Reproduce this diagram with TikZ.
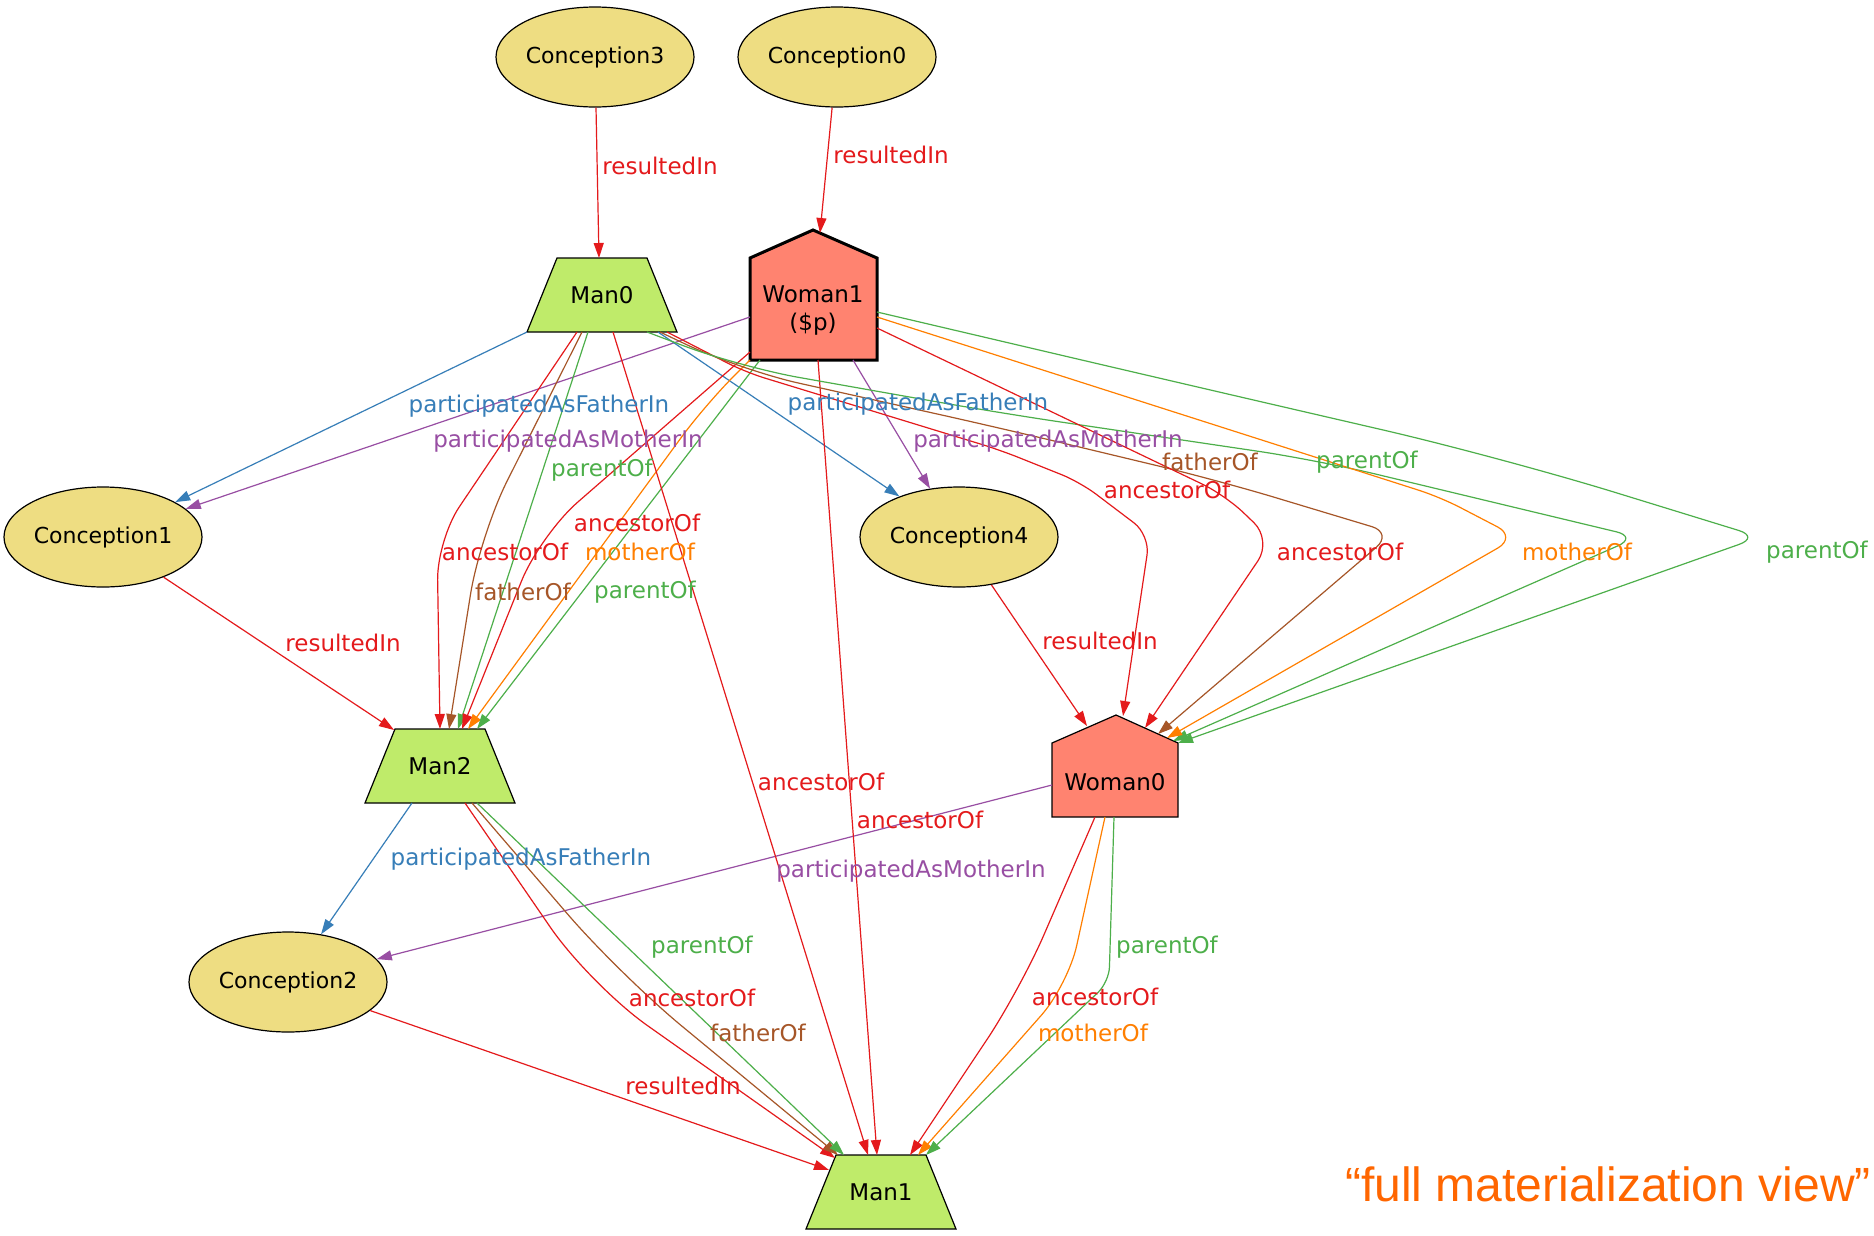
\documentclass[tikz,border=0pt]{standalone}
\usepackage{fontspec}
\setmainfont{DejaVu Sans}
\newfontfamily\titlefont{Liberation Sans}
\usetikzlibrary{arrows.meta,calc,shapes.geometric}
\pgfdeclarelayer{background}
\pgfsetlayers{background,main}

\definecolor{cRed}{HTML}{E41A1C}
\definecolor{cBlue}{HTML}{377EB8}
\definecolor{cGreen}{HTML}{4DAF4A}
\definecolor{cPurple}{HTML}{984EA3}
\definecolor{cOrange}{HTML}{FF7F00}
\definecolor{cBrown}{HTML}{A65628}
\definecolor{conceptFill}{HTML}{EEDD82}
\definecolor{manFill}{HTML}{BFEB6A}
\definecolor{womanFill}{HTML}{FF8370}
\definecolor{titleOrange}{HTML}{FF6600}

\begin{document}
\begin{tikzpicture}[x=1pt, y=-1pt,
  concept/.style={ellipse, draw=black, line width=1.2pt, fill=conceptFill,
    minimum width=198pt, minimum height=100pt, inner sep=0pt,
    font=\fontsize{22}{26}\selectfont},
  man/.style={inner sep=0pt, minimum width=150pt, minimum height=74pt,
    font=\fontsize{23}{27}\selectfont},
  woman/.style={inner sep=0pt, align=center, font=\fontsize{23}{28}\selectfont},
  outline/.style={draw=black, line join=miter, line width=1.2pt},
  edge/.style={line width=1.2pt, -{Triangle[length=15pt,width=10pt]}},
  lbl/.style={inner sep=0pt, font=\fontsize{23}{27}\selectfont}
]
\useasboundingbox (0,0) rectangle (1874,1235);

% ---- nodes ----
\node[concept] (c3) at (595,57) {Conception3};
\node[concept] (c0) at (837,57) {Conception0};
\node[man] (man0) at (602,295) {Man0};
\node[woman] (woman1) at (813,311) {Woman1\\(\$p)};
\node[concept] (c1) at (103,537) {Conception1};
\node[concept] (c4) at (959,537) {Conception4};
\node[man] (man2) at (440,766) {Man2};
\node[woman] (woman0) at (1115,782) {Woman0};
\node[concept] (c2) at (288,982) {Conception2};
\node[man] (man1) at (881,1192) {Man1};

% white sheet, then the trapezium and house outlines behind the labels
\begin{pgfonlayer}{background}
\fill[white] (0,0) rectangle (1874,1235);
\foreach \m in {man0,man2,man1}{
  \draw[outline, fill=manFill]
    ($(\m)+(-75,37)$) -- ($(\m)+(75,37)$) -- ($(\m)+(45,-37)$)
    -- ($(\m)+(-45,-37)$) -- cycle;
}
\draw[outline, fill=womanFill, line width=3pt]
  ($(woman1)+(-63,49)$) -- ($(woman1)+(64,49)$) -- ($(woman1)+(64,-53)$)
  -- ($(woman1)+(0,-81)$) -- ($(woman1)+(-63,-53)$) -- cycle;
\draw[outline, fill=womanFill]
  ($(woman0)+(-63,35)$) -- ($(woman0)+(63,35)$) -- ($(woman0)+(63,-39)$)
  -- ($(woman0)+(1,-67)$) -- ($(woman0)+(-63,-39)$) -- cycle;
\end{pgfonlayer}

% ---- conceptions resulting in persons ----
\draw[edge, cRed] (c3) -- ($(man0)+(-3,-37)$);
\draw[edge, cRed] (c0) -- ($(woman1)+(7,-78)$);
\draw[edge, cRed] (c1) -- ($(man2)+(-46,-36)$);
\draw[edge, cRed] (c4) -- ($(woman0)+(-28,-56)$);
\draw[edge, cRed] (c2) -- ($(man1)+(-52,-22)$);

% ---- participation ----
\draw[edge, cBlue] ($(man0)+(-75,37)$) -- (c1);
\draw[edge, cPurple] ($(woman1)+(-63,6)$) -- (c1);
\draw[edge, cBlue] ($(man0)+(56,37)$) -- (c4);
\draw[edge, cPurple] ($(woman1)+(40,49)$) -- (c4);
\draw[edge, cBlue] ($(man2)+(-28,37)$) -- (c2);
\draw[edge, cPurple] ($(woman0)+(-63,3)$) -- (c2);

% ---- into Man2 ----
\draw[edge, cRed, rounded corners=40pt] ($(man0)+(-25,37)$) -- (437,540) -- ($(man2)+(0,-37)$);
\draw[edge, cBrown, rounded corners=60pt] ($(man0)+(-20,37)$) -- (480,535) -- ($(man2)+(9,-37)$);
\draw[edge, cGreen] ($(man0)+(-14,37)$) -- ($(man2)+(18,-37)$);
\draw[edge, cRed, rounded corners=50pt] ($(woman1)+(-63,41)$) -- (540,535) -- ($(man2)+(22,-37)$);
\draw[edge, cOrange, rounded corners=40pt] ($(woman1)+(-63,49)$) -- (705,405) -- ($(man2)+(28,-37)$);
\draw[edge, cGreen] ($(woman1)+(-53,49)$) -- ($(man2)+(37,-37)$);

% ---- into Man1 ----
\draw[edge, cRed] ($(man0)+(11,37)$) -- ($(man1)+(-13,-37)$);
\draw[edge, cRed] ($(woman1)+(5,49)$) -- ($(man1)+(-4,-37)$);
\draw[edge, cRed, rounded corners=70pt] ($(man2)+(25,37)$) -- (590,985) -- ($(man1)+(-46,-34)$);
\draw[edge, cBrown, rounded corners=80pt] ($(man2)+(32,37)$) -- (620,975) -- ($(man1)+(-43,-37)$);
\draw[edge, cGreen] ($(man2)+(37,37)$) -- ($(man1)+(-37,-37)$);
\draw[edge, cRed, rounded corners=60pt] ($(woman0)+(-20,35)$) -- (1020,990) -- ($(man1)+(29,-37)$);
\draw[edge, cOrange, rounded corners=40pt] ($(woman0)+(-10,35)$) -- (1068,985) -- ($(man1)+(37,-37)$);
\draw[edge, cGreen, rounded corners=15pt] ($(woman0)+(-1,35)$) -- (1109,982) -- ($(man1)+(45,-37)$);

% ---- long routes into Woman0 ----
\draw[edge, cRed, rounded corners=20pt] ($(man0)+(65,37)$) -- (745,372) -- (1000,450) -- (1080,482) -- (1150,535) -- ($(woman0)+(8,-66)$);
\draw[edge, cBrown, rounded corners=60pt] ($(man0)+(58,37)$) -- (740,370) -- (1000,428) -- (1217,480)
  [rounded corners=22pt] -- (1393,533) -- ($(woman0)+(43,-48)$);
\draw[edge, cGreen, rounded corners=60pt] ($(man0)+(45,37)$) -- (740,367) -- (1000,413) -- (1317,460)
  [rounded corners=22pt] -- (1638,537) -- ($(woman0)+(58,-41)$);
\draw[edge, cRed, rounded corners=25pt] ($(woman1)+(64,17)$) -- (1225,495) -- (1272,540) -- ($(woman0)+(30,-54)$);
\draw[edge, cOrange, rounded corners=22pt] ($(woman1)+(64,6)$) -- (1440,497) -- (1517,537) -- ($(woman0)+(52,-44)$);
\draw[edge, cGreen, rounded corners=120pt] ($(woman1)+(64,1)$) -- (1167,380) -- (1500,457)
  [rounded corners=22pt] -- (1760,537) -- ($(woman0)+(63,-39)$);

% ---- edge labels ----
\node[lbl, text=cRed] (l1) at (660,166) {resultedIn};
\node[lbl, text=cRed] (l2) at (891,155) {resultedIn};
\node[lbl, text=cBlue] (l3) at (539,406) {participatedAsFatherIn};
\node[lbl, text=cPurple] (l4) at (568,441) {participatedAsMotherIn};
\node[lbl, text=cBlue] (l5) at (918,404) {participatedAsFatherIn};
\node[lbl, text=cPurple] (l6) at (1048,441) {participatedAsMotherIn};
\node[lbl, text=cGreen] (l7) at (602,470) {parentOf};
\node[lbl, text=cRed] (l8) at (505,552) {ancestorOf};
\node[lbl, text=cBrown] (l9) at (523,592) {fatherOf};
\node[lbl, text=cRed] (l10) at (637,523) {ancestorOf};
\node[lbl, text=cOrange] (l11) at (640,552) {motherOf};
\node[lbl, text=cGreen] (l12) at (645,592) {parentOf};
\node[lbl, text=cRed] (l13) at (343,643) {resultedIn};
\node[lbl, text=cRed] (l14) at (821,782) {ancestorOf};
\node[lbl, text=cRed] (l15) at (920,820) {ancestorOf};
\node[lbl, text=cPurple] (l16) at (911,871) {participatedAsMotherIn};
\node[lbl, text=cBlue] (l17) at (521,859) {participatedAsFatherIn};
\node[lbl, text=cGreen] (l18) at (702,947) {parentOf};
\node[lbl, text=cRed] (l19) at (692,998) {ancestorOf};
\node[lbl, text=cBrown] (l20) at (758,1033) {fatherOf};
\node[lbl, text=cRed] (l21) at (683,1086) {resultedIn};
\node[lbl, text=cRed] (l22) at (1095,997) {ancestorOf};
\node[lbl, text=cOrange] (l23) at (1093,1033) {motherOf};
\node[lbl, text=cGreen] (l24) at (1167,947) {parentOf};
\node[lbl, text=cRed] (l25) at (1100,641) {resultedIn};
\node[lbl, text=cRed] (l26) at (1167,490) {ancestorOf};
\node[lbl, text=cBrown] (l27) at (1210,462) {fatherOf};
\node[lbl, text=cGreen] (l28) at (1367,462) {parentOf};
\node[lbl, text=cRed] (l29) at (1340,552) {ancestorOf};
\node[lbl, text=cOrange] (l30) at (1577,552) {motherOf};
\node[lbl, text=cGreen] (l31) at (1817,552) {parentOf};

% ---- caption ----
\node[anchor=base east, inner sep=0pt, text=titleOrange,
  font=\titlefont\fontsize{48}{56}\selectfont] (caption) at (1871,1201)
  {“full materialization view”};
\end{tikzpicture}
\end{document}
